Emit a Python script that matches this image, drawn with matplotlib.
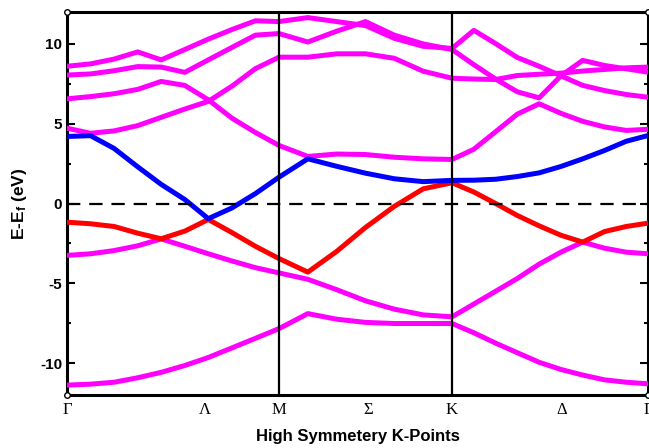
import matplotlib
matplotlib.use("Agg")
import matplotlib.pyplot as plt

plt.rcParams['font.family'] = ['Liberation Sans', 'DejaVu Sans']
plt.rcParams['mathtext.fontset'] = 'custom'
plt.rcParams['mathtext.rm'] = 'Liberation Sans:bold'
plt.rcParams['mathtext.it'] = 'Liberation Sans:bold'
plt.rcParams['axes.unicode_minus'] = False

# k-path positions (fraction of Gamma-M-K-Gamma path)
kpath = [0.0, 0.0406, 0.0811, 0.1217, 0.1621, 0.2028, 0.2432, 0.2838, 0.3243, 0.3649,
         0.4145, 0.4642, 0.5138, 0.5633, 0.6131, 0.6627,
         0.7002, 0.7377, 0.7750, 0.8126, 0.8501, 0.8876, 0.9250, 0.9625, 1.0]

kpt_pos = [0.0, 0.2375, 0.3649, 0.518, 0.6627, 0.852, 1.0]
kpt_labels = ['\u0393', '\u039b', 'M', '\u03a3', 'K', '\u0394', '\u0393']
kline_pos = [0.3649, 0.6627]

# energies (eV, relative to E_f)
band1 = [-11.38, -11.32, -11.2, -10.92, -10.58, -10.15, -9.65, -9.05, -8.45, -7.84,
         -6.9, -7.25, -7.45, -7.52, -7.52, -7.52,
         -8.1, -8.75, -9.35, -9.95, -10.4, -10.75, -11.05, -11.2, -11.3]
band2 = [-3.25, -3.15, -2.95, -2.65, -2.22, -2.68, -3.15, -3.6, -4.02, -4.35,
         -4.75, -5.4, -6.1, -6.62, -6.98, -7.1,
         -6.3, -5.5, -4.7, -3.8, -3.05, -2.42, -2.8, -3.05, -3.15]
red_band = [-1.17, -1.27, -1.44, -1.86, -2.21, -1.73, -1.0, -1.82, -2.68, -3.45,
            -4.3, -3.0, -1.5, -0.18, 0.92, 1.3,
            0.72, 0.0, -0.75, -1.4, -1.99, -2.42, -1.76, -1.44, -1.23]
blue_band = [4.2, 4.25, 3.45, 2.3, 1.2, 0.25, -0.95, -0.28, 0.62, 1.65,
             2.8, 2.33, 1.9, 1.55, 1.37, 1.45,
             1.46, 1.52, 1.69, 1.92, 2.32, 2.8, 3.32, 3.9, 4.26]
band_u4 = [4.72, 4.4, 4.55, 4.88, 5.4, 5.92, 6.4, 7.35, 8.45, 9.17,
           9.17, 9.38, 9.38, 9.1, 8.29, 7.85,
           7.8, 7.77, 8.02, 8.1, 8.17, 8.3, 8.4, 8.5, 8.55]
band_u3 = [6.56, 6.7, 6.88, 7.15, 7.65, 7.4, 6.5, 5.35, 4.45, 3.64,
           2.95, 3.1, 3.07, 2.9, 2.8, 2.76,
           3.4, 4.5, 5.6, 6.25, 5.65, 5.15, 4.8, 4.58, 4.65]
band_u2 = [8.05, 8.12, 8.32, 8.58, 8.55, 8.22, 9.0, 9.78, 10.55, 10.65,
           10.12, 10.8, 11.4, 10.55, 10.0, 9.65,
           8.7, 7.8, 7.0, 6.62, 8.0, 8.97, 8.65, 8.44, 8.23]
band_u1 = [8.6, 8.75, 9.05, 9.5, 9.0, 9.65, 10.3, 10.9, 11.45, 11.4,
           11.65, 11.4, 11.15, 10.35, 9.85, 9.72,
           10.85, 10.02, 9.15, 8.6, 8.0, 7.4, 7.08, 6.83, 6.66]

magenta_bands = [band1, band2, band_u4, band_u3, band_u2, band_u1]

fig = plt.figure(figsize=(6.49, 4.48), dpi=100)
ax = fig.add_axes([0.1032, 0.1183, 0.8953, 0.8549])

for b in magenta_bands:
    ax.plot(kpath, b, color='#ff00ff', lw=3.6, zorder=3)
ax.plot(kpath, red_band, color='#ff0000', lw=3.6, zorder=4)
ax.plot(kpath, blue_band, color='#0000ff', lw=3.6, zorder=4)

for xk in kline_pos:
    ax.axvline(xk, color='black', lw=1.6, zorder=5)
ax.axhline(0, color='black', lw=1.6, dashes=(6, 4), zorder=5)

ax.set_xlim(0, 1)
ax.set_ylim(-12, 12)
ax.set_yticks([-10, -5, 0, 5, 10])
ax.set_yticks([-7.5, -2.5, 2.5, 7.5], minor=True)
ax.tick_params(axis='y', which='both', direction='in', right=True, width=1.5)
ax.tick_params(axis='y', which='major', length=6, labelsize=11)
ax.tick_params(axis='y', which='minor', length=3)
for lab in ax.get_yticklabels():
    lab.set_fontweight('bold')

ax.set_xticks(kpt_pos)
ax.set_xticklabels(kpt_labels, family='Liberation Serif', fontsize=12)
ax.tick_params(axis='x', length=0, pad=5)

for s in ax.spines.values():
    s.set_linewidth(2.2)

ax.set_xlabel('High Symmetery K-Points', fontsize=12, fontweight='bold', labelpad=8)
ax.set_ylabel('E-E$_f$ (eV)', fontsize=12.5, fontweight='bold')
ax.yaxis.set_label_coords(-0.065, 0.5)

# small corner markers
ax.plot([0, 0, 1, 1], [12, -12, 12, -12], ls='none', marker='o', ms=4,
        mfc='white', mec='black', mew=1, clip_on=False, zorder=6)

fig.savefig('out.png', dpi=100)
